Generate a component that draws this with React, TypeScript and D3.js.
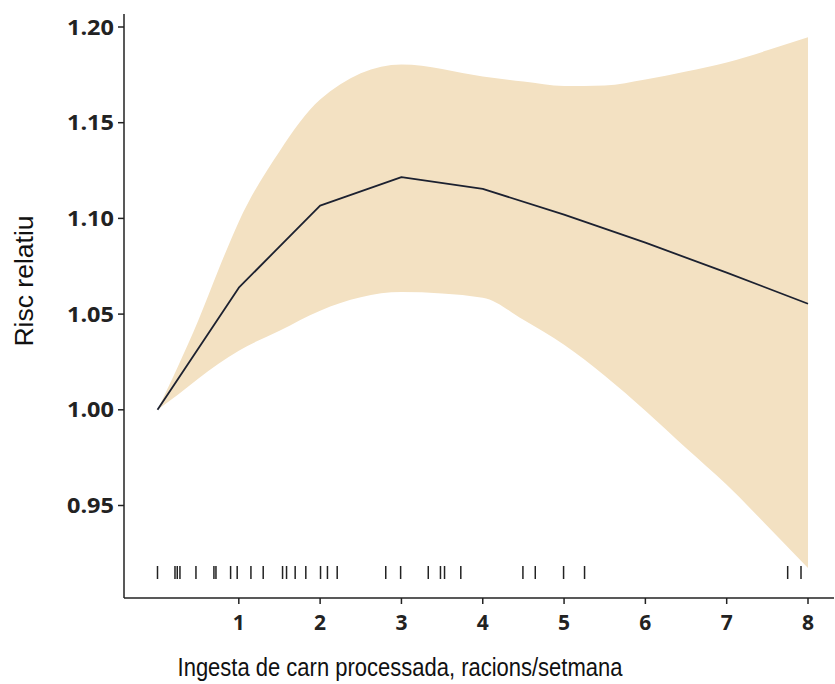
import React from "react";
import * as d3 from "d3";

const lineX = [0, 1, 2, 3, 4, 5, 6, 7, 8];
const lineRR = [1.0, 1.0638, 1.1067, 1.1216, 1.1154, 1.102, 1.0873, 1.0717, 1.0554];

const bandX = [0, 0.25, 0.5, 0.75, 1, 1.5, 2, 3, 4, 4.5, 5, 5.5, 6, 6.5, 7, 7.5, 8];
const bandUpper = [1.0, 1.0225, 1.0465, 1.0732, 1.0983, 1.135, 1.1621, 1.1804, 1.1742, 1.1715, 1.1692, 1.1695, 1.1726, 1.1768, 1.1815, 1.1878, 1.1946];
const bandLower = [1.0, 1.0078, 1.0162, 1.024, 1.0309, 1.0413, 1.0518, 1.0615, 1.0586, 1.047, 1.034, 1.0178, 0.9995, 0.98, 0.9608, 0.9393, 0.9174];

const rugValues = [0.0, 0.215, 0.243, 0.276, 0.473, 0.694, 0.719, 0.899, 0.98, 1.149, 1.3, 1.538, 1.587, 1.693, 1.824, 2.005, 2.09, 2.21, 2.807, 2.99, 3.33, 3.48, 3.53, 3.73, 4.494, 4.646, 4.994, 5.252, 7.75, 7.914];

const xTicks = [1, 2, 3, 4, 5, 6, 7, 8];
const yTicks = [0.95, 1.0, 1.05, 1.1, 1.15, 1.2];

const xTitle = "Ingesta de carn processada, racions/setmana";
const yTitle = "Risc relatiu";

export default function App() {
  const W = 835;
  const H = 684;
  const axisLeft = 124;
  const axisBottom = 598;
  const x = d3.scaleLinear().domain([0, 8]).range([157.5, 808]);
  const y = d3.scaleLinear().domain([0.95, 1.2]).range([505.5, 27]);

  const bandData = bandX.map((v, i) => ({ x: v, lo: bandLower[i], hi: bandUpper[i] }));
  const area = d3
    .area<{ x: number; lo: number; hi: number }>()
    .x((d) => x(d.x))
    .y0((d) => y(d.lo))
    .y1((d) => y(d.hi))
    .curve(d3.curveMonotoneX);
  const lineData = lineX.map((v, i) => ({ x: v, v: lineRR[i] }));
  const line = d3
    .line<{ x: number; v: number }>()
    .x((d) => x(d.x))
    .y((d) => y(d.v))
    .curve(d3.curveLinear);

  const tickFont = "'Open Sans', 'DejaVu Sans', sans-serif";
  const titleFont = "'Liberation Sans', Arial, sans-serif";

  return (
    <div style={{ position: "absolute", left: 0, top: 0 }}>
      <svg width={W} height={H} style={{ display: "block", background: "#fff" }}>
        <path d={area(bandData) || ""} fill="#f3e1c2" stroke="none" />
        <path d={line(lineData) || ""} fill="none" stroke="#1c2130" strokeWidth={1.8} strokeLinejoin="round" />
        {rugValues.map((r, i) => (
          <line key={i} x1={x(r)} x2={x(r)} y1={566} y2={579} stroke="#222" strokeWidth={1.5} />
        ))}
        <line x1={axisLeft} x2={axisLeft} y1={14} y2={axisBottom} stroke="#222" strokeWidth={1.5} />
        <line x1={axisLeft} x2={834} y1={axisBottom} y2={axisBottom} stroke="#222" strokeWidth={1.5} />
        {yTicks.map((t) => (
          <g key={t}>
            <line x1={axisLeft - 6} x2={axisLeft} y1={y(t)} y2={y(t)} stroke="#222" strokeWidth={1.5} />
            <text
              transform={`translate(${axisLeft - 10}, ${y(t)}) scale(1.12, 1)`}
              dy="0.36em"
              textAnchor="end"
              fontFamily={tickFont}
              fontWeight={700}
              fontSize={21}
              fill="#222"
            >
              {t.toFixed(2)}
            </text>
          </g>
        ))}
        {xTicks.map((t) => (
          <g key={t}>
            <line x1={x(t)} x2={x(t)} y1={axisBottom} y2={axisBottom + 6} stroke="#222" strokeWidth={1.5} />
            <text
              x={x(t)}
              y={axisBottom + 32}
              textAnchor="middle"
              fontFamily={tickFont}
              fontWeight={700}
              fontSize={21}
              fill="#222"
            >
              {t}
            </text>
          </g>
        ))}
        <text
          transform="translate(400, 676) scale(0.83, 1)"
          textAnchor="middle"
          fontFamily={titleFont}
          fontSize={26.5}
          fill="#111"
        >
          {xTitle}
        </text>
        <text
          transform={`translate(33, 281) rotate(-90)`}
          textAnchor="middle"
          fontFamily={titleFont}
          fontSize={26.5}
          fill="#111"
        >
          {yTitle}
        </text>
      </svg>
    </div>
  );
}
